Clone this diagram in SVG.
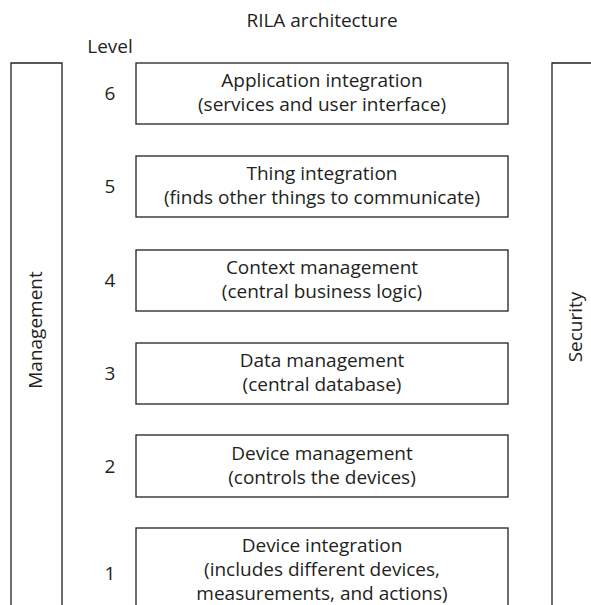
<svg xmlns="http://www.w3.org/2000/svg" width="591" height="605" viewBox="0 0 591 605">
<style>
text{font-family:"Open Sans","Noto Sans","Liberation Sans",sans-serif;font-size:19px;fill:#231f20;text-anchor:middle}
.box{fill:none;stroke:#231f20;stroke-width:1.3}
</style>
<rect width="591" height="605" fill="#fff"/>
<text x="322" y="27">RILA architecture</text>
<text x="110" y="53">Level</text>
<g id="management">
<path class="box" d="M11,612 V63 H62 V612"/>
<text transform="translate(42,330) rotate(-90)">Management</text>
</g>
<g id="security">
<path class="box" d="M552,612 V63 H600"/>
<text transform="translate(582,327) rotate(-90)">Security</text>
</g>
<g id="level6">
<rect class="box" x="136" y="63" width="372" height="61"/>
<text x="110" y="100">6</text>
<text x="322" y="87">Application integration</text>
<text x="322" y="111">(services and user interface)</text>
</g>
<g id="level5">
<rect class="box" x="136" y="156" width="372" height="61"/>
<text x="110" y="193">5</text>
<text x="322" y="180">Thing integration</text>
<text x="322" y="204">(finds other things to communicate)</text>
</g>
<g id="level4">
<rect class="box" x="136" y="250" width="372" height="61"/>
<text x="110" y="287">4</text>
<text x="322" y="274">Context management</text>
<text x="322" y="298">(central business logic)</text>
</g>
<g id="level3">
<rect class="box" x="136" y="343" width="372" height="61"/>
<text x="110" y="380">3</text>
<text x="322" y="367">Data management</text>
<text x="322" y="391">(central database)</text>
</g>
<g id="level2">
<rect class="box" x="136" y="435" width="372" height="62"/>
<text x="110" y="473">2</text>
<text x="322" y="460">Device management</text>
<text x="322" y="484">(controls the devices)</text>
</g>
<g id="level1">
<rect class="box" x="136" y="528" width="372" height="90"/>
<text x="110" y="580">1</text>
<text x="322" y="552">Device integration</text>
<text x="322" y="576">(includes different devices,</text>
<text x="322" y="600">measurements, and actions)</text>
</g>
<g id="connectors"></g>
</svg>
